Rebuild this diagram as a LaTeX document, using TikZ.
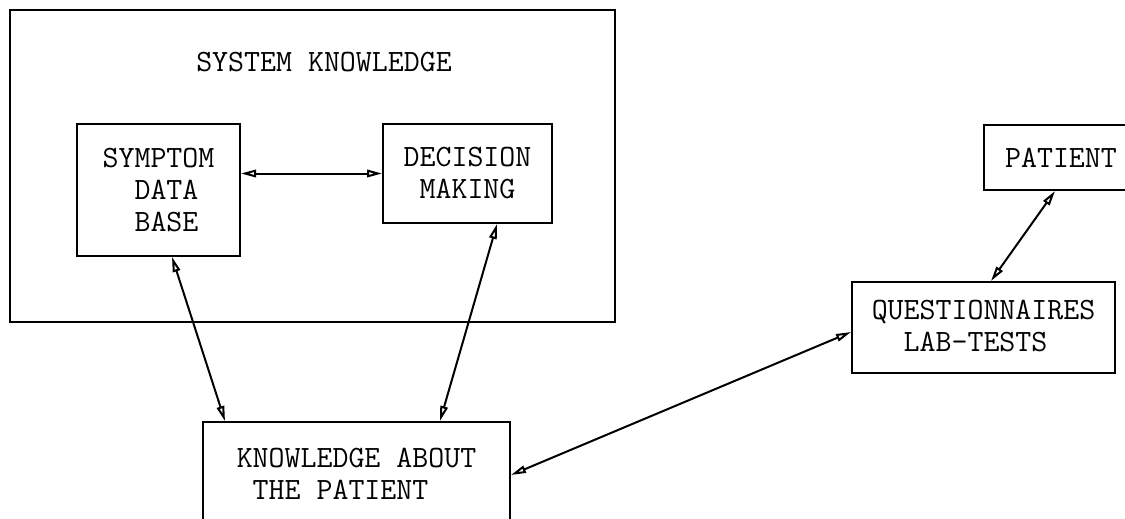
\documentclass[tikz,border=0pt]{standalone}
\usepackage{fontspec}
\usetikzlibrary{arrows.meta}
\begin{document}
\begin{tikzpicture}[x=1pt,y=-1pt,
    typed/.style={font=\ttfamily\fontsize{31}{32}\selectfont, align=left},
    box/.style={typed, draw, line width=2pt, inner sep=0pt},
    link/.style={line width=2pt,
      {Triangle[open,length=15pt,width=7.5pt]}-{Triangle[open,length=15pt,width=7.5pt]}}]
    \useasboundingbox (0,0) rectangle (1125,519);

    \node[box, minimum width=605pt, minimum height=312pt] (system) at (312.5,166) {};
    \node[typed] (systitle) at (324,62) {SYSTEM KNOWLEDGE};

    \node[box, minimum width=163pt, minimum height=132pt] (symptom) at (158.5,190)
        {SYMPTOM\\\phantom{SY}DATA\\\phantom{SY}BASE};
    \node[box, minimum width=169pt, minimum height=99pt] (decision) at (467.5,173.5)
        {DECISION\\\phantom{D}MAKING};

    \node[box, minimum width=307pt, minimum height=104pt] (kap) at (356.5,474)
        {KNOWLEDGE ABOUT\\\phantom{K}THE PATIENT};
    \node[box, minimum width=263pt, minimum height=91pt] (quest) at (983.5,327.5)
        {QUESTIONNAIRES\\\phantom{QU}LAB-TESTS};
    \node[box, minimum width=154pt, minimum height=65pt] (patient) at (1061,157.5)
        {PATIENT};

    \draw[link] (decision.west -| symptom.east) -- (decision.west);
    \draw[link] ([xshift=13.5pt]symptom.south) -- ([xshift=-131.5pt]kap.north);
    \draw[link] ([xshift=29.5pt]decision.south) -- ([xshift=83.5pt]kap.north);
    \draw[link] ([yshift=-1pt]kap.east) -- ([yshift=-4.5pt]quest.west);
    \draw[link] ([xshift=7.5pt]quest.north) -- ([xshift=-6pt]patient.south);
\end{tikzpicture}
\end{document}
